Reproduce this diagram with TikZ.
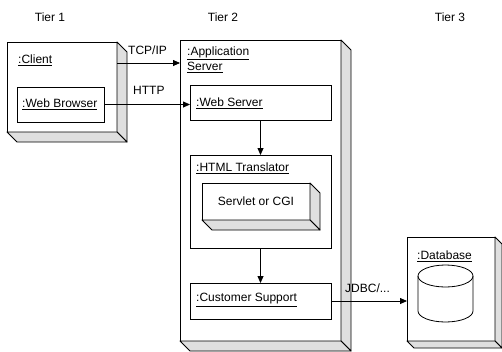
\documentclass[tikz,border=0pt]{standalone}
\usepackage{fontspec}
\setmainfont{Liberation Sans}
\usetikzlibrary{arrows.meta}

% shaded side and bottom faces of a 3D node box
\newcommand{\drawdepth}[2]{%
  \filldraw[face] (#1.north east) -- ++(#2,#2) -- ([shift={(#2pt,-#2pt)}]#1.south east) -- (#1.south east) -- cycle;
  \filldraw[face] (#1.south west) -- ++(#2,#2) -- ([shift={(#2pt,-#2pt)}]#1.south east) -- (#1.south east) -- cycle;
}

\begin{document}
\begin{tikzpicture}[x=1pt,y=-1pt,
  font=\fontsize{12}{15}\selectfont,
  frontbox/.style={draw, fill=white, line width=0.8pt, anchor=north west, inner sep=0pt, outer sep=0pt},
  face/.style={fill=gray!25, draw=black, line width=0.9pt, line join=round},
  lbl/.style={anchor=west, inner sep=0pt},
  arr/.style={line width=0.8pt, -{Triangle[length=7pt,width=6pt]}}
]
\useasboundingbox (0,0) rectangle (502,351);

% tier headings
\node (t1) at (50,17) {Tier 1};
\node (t2) at (223,17) {Tier 2};
\node (t3) at (450,17) {Tier 3};

% client node
\node[frontbox, minimum width=110pt, minimum height=90pt] (client) at (7,42) {};
\drawdepth{client}{10}
\node[lbl] (clientlbl) at (18,60) {\underline{:Client}};
\node[frontbox, minimum width=87pt, minimum height=35pt] (wb) at (17,87) {};
\node[lbl] (wblbl) at (22,104) {\underline{:Web Browser}};

% application server node
\node[frontbox, minimum width=161pt, minimum height=301pt] (app) at (180,40) {};
\drawdepth{app}{10}
\node[lbl, align=left] (applbl) at (187,60) {\underline{:Application}\\\underline{Server}};

\node[frontbox, minimum width=141pt, minimum height=35pt] (ws) at (190,85) {};
\node[lbl] (wslbl) at (196,103) {\underline{:Web Server}};

\node[frontbox, minimum width=141pt, minimum height=93pt] (html) at (190,155) {};
\node[lbl] (htmllbl) at (196,168) {\underline{:HTML Translator}};

\node[frontbox, minimum width=108pt, minimum height=37pt] (servlet) at (202,183) {};
\drawdepth{servlet}{10}
\node (servletlbl) at (servlet.center) {Servlet or CGI};

\node[frontbox, minimum width=141pt, minimum height=36pt] (cs) at (190,283) {};
\node[lbl] (cslbl) at (196,300) {\underline{:Customer Support}};

% database node
\node[frontbox, minimum width=88pt, minimum height=104pt] (db) at (407,237) {};
\drawdepth{db}{7}
\node[lbl] (dblbl) at (417,256) {\underline{:Database}};
\filldraw[fill=white, line width=0.8pt] (418,276) -- (418,311)
  arc[start angle=180, end angle=360, x radius=27.5pt, y radius=11pt] -- (473,276);
\draw[line width=0.8pt] (445.5,276) ellipse [x radius=27.5pt, y radius=11pt];

% connectors
\coordinate (tcp) at (117,63);
\draw[arr] (tcp) -- (tcp -| app.west);
\node[lbl] (tcplbl) at (128,50) {TCP/IP};
\draw[arr] (wb.east) -- (wb.east -| ws.west);
\node[lbl] (httplbl) at (133,90) {HTTP};
\draw[arr] (ws.south) -- (html.north);
\draw[arr] (html.south) -- (cs.north);
\draw[arr] (cs.east) -- (cs.east -| db.west);
\node[lbl] (jdbclbl) at (345,288) {JDBC/...};
\end{tikzpicture}
\end{document}
